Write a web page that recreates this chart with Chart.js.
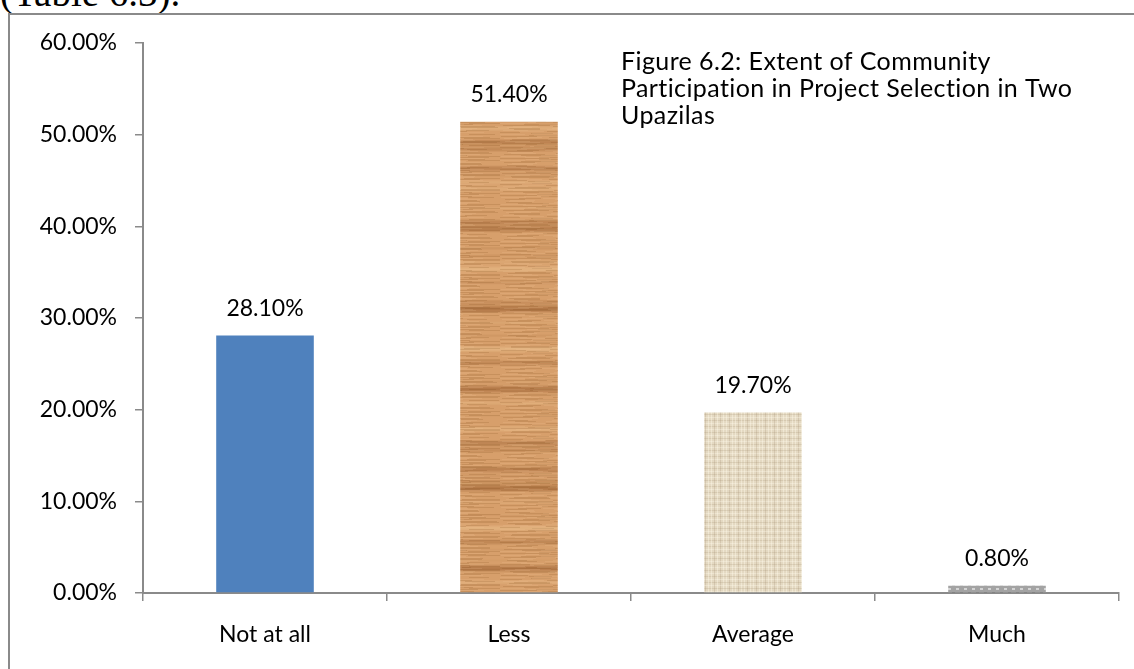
<!DOCTYPE html>
<html>
<head>
<meta charset="utf-8">
<script src="https://cdn.jsdelivr.net/npm/chart.js@4"></script>
<style>
  html, body { margin: 0; padding: 0; background: #fff; overflow: hidden; }
  #wrap { position: absolute; left: 0; top: 0; width: 1134px; height: 669px; }
  #frame { position: absolute; left: 8px; top: 13px; width: 1140px; height: 680px; border: 2px solid #8a8a8a; box-sizing: border-box; }
  #above { position: absolute; left: 0; top: -27px; font: 39px/39px "Liberation Serif", serif; color: #000; white-space: nowrap; }
</style>
</head>
<body>
<div id="wrap">
  <div id="above">(Table 6.3).</div>
  <div id="frame"></div>
  <canvas id="myChart" width="1134" height="669" style="position:absolute;left:0;top:0;"></canvas>
</div>
<script>
const categories = ['Not at all', 'Less', 'Average', 'Much'];
const values = [28.1, 51.4, 19.7, 0.8];
const yTicks = [0, 10, 20, 30, 40, 50, 60];
const titleLines = ['Figure 6.2: Extent of Community', 'Participation in Project Selection in Two', 'Upazilas'];

const FONT = 'Lato, "Open Sans", sans-serif';

// textures for the bars (wood, linen, granite)
function makeWood() {
    const c = document.createElement('canvas');
    c.width = 100; c.height = 480;
    const g = c.getContext('2d');
    g.fillStyle = '#d79f6b';
    g.fillRect(0, 0, 100, 480);
    for (let y = 0; y < 480; y++) {
        const s = 0.45 * Math.sin(y * 0.23) + 0.35 * Math.sin(y * 0.083 + 1.3) + 0.2 * Math.sin(y * 0.71 + 2.1);
        if (s > 0.25) {
            g.fillStyle = 'rgba(140,80,35,' + ((s - 0.25) * 0.7).toFixed(3) + ')';
            g.fillRect(0, y, 100, 1);
        } else if (s < -0.4) {
            g.fillStyle = 'rgba(240,200,150,' + ((-s - 0.4) * 0.8).toFixed(3) + ')';
            g.fillRect(0, y, 100, 1);
        }
        // short streaks so the grain is not perfectly even
        const k = Math.sin(y * 1.7) * 0.5 + 0.5;
        const w = 20 + Math.round(30 * (Math.sin(y * 0.37) * 0.5 + 0.5));
        g.fillStyle = 'rgba(130,75,30,0.18)';
        g.fillRect(Math.floor(k * 70), y, w, 1);
        g.fillStyle = 'rgba(245,205,160,0.15)';
        g.fillRect(Math.floor((1 - k) * 60), y, 25, 1);
    }
    return g.createPattern(c, 'repeat');
}
function makeLinen() {
    const c = document.createElement('canvas');
    c.width = 60; c.height = 60;
    const g = c.getContext('2d');
    g.fillStyle = '#e4d9c2';
    g.fillRect(0, 0, 60, 60);
    for (let i = 0; i < 60; i += 3) {
        g.fillStyle = (i % 9 === 0) ? 'rgba(165,145,115,0.25)' : 'rgba(255,250,235,0.4)';
        g.fillRect(i, 0, 1, 60);
        g.fillStyle = (i % 6 === 0) ? 'rgba(165,145,115,0.22)' : 'rgba(255,250,235,0.35)';
        g.fillRect(0, i, 60, 1);
    }
    return g.createPattern(c, 'repeat');
}
function makeGranite() {
    const c = document.createElement('canvas');
    c.width = 40; c.height = 8;
    const g = c.getContext('2d');
    g.fillStyle = '#a3a3a3';
    g.fillRect(0, 0, 40, 8);
    for (let x = 0; x < 40; x += 4) {
        g.fillStyle = (x % 8 === 0) ? '#6f6f6f' : '#d4d4d4';
        g.fillRect(x, (x * 3) % 8, 3, 2);
    }
    return g.createPattern(c, 'repeat');
}

const barLabels = {
    id: 'barLabels',
    afterDatasetsDraw(chart) {
        const ctx = chart.ctx;
        ctx.save();
        ctx.font = '23px ' + FONT;
        ctx.fillStyle = '#000';
        ctx.textAlign = 'center';
        ctx.textBaseline = 'middle';
        chart.getDatasetMeta(0).data.forEach((bar, i) => {
            ctx.fillText(values[i].toFixed(2) + '%', bar.x, bar.y - 27);
        });
        ctx.restore();
    }
};

const innerTitle = {
    id: 'innerTitle',
    afterDraw(chart) {
        const ctx = chart.ctx;
        ctx.save();
        ctx.font = '25px ' + FONT;
        ctx.letterSpacing = '0.4px';
        ctx.fillStyle = '#000';
        ctx.textAlign = 'left';
        ctx.textBaseline = 'middle';
        titleLines.forEach((t, i) => ctx.fillText(t, 621, 62 + i * 27));
        ctx.restore();
    }
};

var ctx = document.getElementById('myChart').getContext('2d');

var myChart = new Chart(ctx, {
    type: 'bar',
    data: {
        labels: categories,
        datasets: [{
            data: values,
            backgroundColor: ['#4f81bd', makeWood(), makeLinen(), makeGranite()],
            borderWidth: 0,
            barPercentage: 0.4,
            categoryPercentage: 1.0
        }]
    },
    options: {
        responsive: false,
        animation: false,
        layout: { padding: { top: 43, right: 15, left: 0, bottom: 0 } },
        plugins: { legend: { display: false }, tooltip: { enabled: false }, title: { display: false } },
        scales: {
            x: {
                grid: { drawOnChartArea: false, drawTicks: true, tickLength: 8, color: '#8a8a8a', lineWidth: 1.5 },
                border: { color: '#8a8a8a', width: 2 },
                ticks: { color: '#000', font: { family: FONT, size: 23 }, padding: 20 },
                afterFit: s => { s.height = 76; }
            },
            y: {
                min: 0,
                max: 60,
                afterBuildTicks: s => { s.ticks = yTicks.map(v => ({ value: v })); },
                grid: { drawOnChartArea: false, drawTicks: true, tickLength: 8, color: '#8a8a8a', lineWidth: 1.5 },
                border: { color: '#8a8a8a', width: 2 },
                ticks: { color: '#000', font: { family: FONT, size: 23 }, padding: 18,
                         callback: v => v.toFixed(2) + '%' },
                afterFit: s => { s.width = 143; }
            }
        }
    },
    plugins: [barLabels, innerTitle]
});
</script>
</body>
</html>
